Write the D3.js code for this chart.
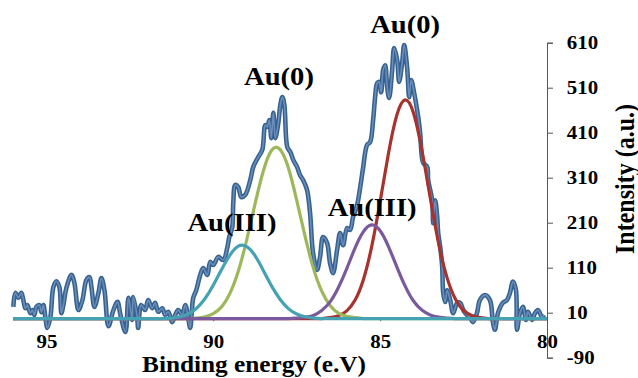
<!DOCTYPE html>
<html><head><meta charset="utf-8">
<script src="https://cdn.jsdelivr.net/npm/d3@7"></script>
<style>
html,body{margin:0;padding:0;background:#fff;}
svg{display:block;}
text{font-family:"Liberation Serif","Times New Roman",serif;font-weight:bold;fill:#000;}
</style></head><body>
<svg id="chart" width="638" height="378"></svg>
<script>
// Measured spectrum (binding energy in eV, intensity in a.u.)
const energy = [95.99,95.93,95.84,95.75,95.69,95.63,95.57,95.48,95.42,95.36,95.30,95.21,95.15,95.09,95.03,94.97,94.88,94.79,94.70,94.61,94.55,94.49,94.40,94.25,94.16,94.04,93.92,93.80,93.71,93.65,93.56,93.44,93.35,93.26,93.14,92.99,92.87,92.78,92.63,92.54,92.43,92.40,92.28,92.25,92.16,92.04,91.95,91.83,91.74,91.65,91.53,91.44,91.35,91.23,91.14,91.05,90.93,90.84,90.75,90.69,90.60,90.51,90.39,90.30,90.18,90.09,90.00,89.85,89.70,89.58,89.52,89.43,89.40,89.34,89.25,89.16,89.04,88.89,88.80,88.65,88.53,88.44,88.38,88.32,88.26,88.20,88.14,88.05,87.99,87.93,87.87,87.78,87.69,87.60,87.49,87.40,87.31,87.19,87.10,87.01,86.89,86.80,86.71,86.59,86.50,86.41,86.29,86.20,86.11,85.99,85.90,85.81,85.69,85.60,85.51,85.39,85.30,85.21,85.15,85.09,85.03,84.97,84.91,84.85,84.79,84.73,84.64,84.58,84.49,84.43,84.34,84.28,84.19,84.13,84.07,83.98,83.86,83.80,83.71,83.59,83.56,83.44,83.41,83.35,83.29,83.26,83.20,83.14,83.11,83.05,82.99,82.90,82.81,82.69,82.60,82.51,82.40,82.31,82.22,82.10,82.01,81.86,81.71,81.62,81.56,81.47,81.32,81.20,81.11,81.02,80.93,80.90,80.81,80.72,80.63,80.57,80.45,80.36,80.27,80.15,80.09];
const intensity = [23,54,43,54,38,20,27,9,16,5,23,27,11,27,0,-24,0,67,80,67,9,27,65,94,76,16,38,83,89,67,23,54,87,60,-20,16,34,5,-33,43,-6,45,0,-24,27,16,38,20,32,12,20,5,12,-11,5,16,5,27,-2,-24,43,60,94,109,94,123,116,134,127,154,178,200,254,294,289,267,272,305,334,356,372,427,423,438,398,454,398,432,472,489,472,378,367,349,334,316,305,283,232,143,105,134,178,165,120,98,149,187,160,198,194,223,249,287,332,383,389,438,489,520,523,500,549,560,512,487,549,598,572,523,565,605,554,489,527,498,445,409,343,334,305,260,209,260,223,187,156,112,54,34,60,38,9,32,32,16,5,0,-11,9,38,49,38,-11,-28,9,32,38,54,79,60,-28,9,23,-6,12,-6,9,16,0,5];

// Fitted components, sampled on a common energy grid
const fitEnergy = [80,80.25,80.5,80.75,81,81.25,81.5,81.75,82,82.25,82.5,82.75,83,83.25,83.5,83.75,84,84.25,84.5,84.75,85,85.25,85.5,85.75,86,86.25,86.5,86.75,87,87.25,87.5,87.75,88,88.25,88.5,88.75,89,89.25,89.5,89.75,90,90.25,90.5,90.75,91,91.25,91.5,91.75,92,92.25,92.5,92.75,93,93.25,93.5,93.75,94,94.25,94.5,94.75,95,95.25,95.5,95.75,96];
const fitAu0Main = [-3,-3,-3,-3,-3,-3,-3,-3,-1,4,15,41,89,165,266,372,454,483,449,364,257,158,84,38,14,3,-1,-3,-3,-3,-3,-3,-3,-3,-3,-3,-3,-3,-3,-3,-3,-3,-3,-3,-3,-3,-3,-3,-3,-3,-3,-3,-3,-3,-3,-3,-3,-3,-3,-3,-3,-3,-3,-3,-3];
const fitAu3Main = [-3,-3,-3,-3,-3,-3,-3,-3,-3,-3,-3,-3,-2,0,5,16,36,69,112,157,192,205,190,154,108,66,34,15,4,0,-2,-3,-3,-3,-3,-3,-3,-3,-3,-3,-3,-3,-3,-3,-3,-3,-3,-3,-3,-3,-3,-3,-3,-3,-3,-3,-3,-3,-3,-3,-3,-3,-3,-3,-3];
const fitAu0Second = [-3,-3,-3,-3,-3,-3,-3,-3,-3,-3,-3,-3,-3,-3,-3,-3,-3,-3,-3,-3,-3,-3,-3,-1,2,9,26,58,109,180,260,332,373,371,325,251,171,102,53,23,8,1,-2,-3,-3,-3,-3,-3,-3,-3,-3,-3,-3,-3,-3,-3,-3,-3,-3,-3,-3,-3,-3,-3,-3];
const fitAu3Second = [-3,-3,-3,-3,-3,-3,-3,-3,-3,-3,-3,-3,-3,-3,-3,-3,-3,-3,-3,-3,-3,-3,-3,-3,-3,-3,-3,-3,-2,1,7,19,40,69,104,137,157,158,138,106,71,41,20,7,1,-2,-3,-3,-3,-3,-3,-3,-3,-3,-3,-3,-3,-3,-3,-3,-3,-3,-3,-3,-3];

const xTickValues = [95, 90, 85, 80];
const yTickValues = [610, 510, 410, 310, 210, 110, 10, -90];
const peakNames = ["Au(0)", "Au(0)", "Au(III)", "Au(III)"];

const svg = d3.select("#chart");
const x = d3.scaleLinear().domain([96, 80]).range([13, 547]);
const y = d3.scaleLinear().domain([-90, 610]).range([357.7, 42.7]);
const fmt = d => String(d);

// x axis
const xAxis = svg.append("g")
  .attr("transform", `translate(0,${y(0)})`)
  .call(d3.axisBottom(x).tickValues(xTickValues).tickSize(4).tickSizeOuter(0).tickPadding(13).tickFormat(fmt));
xAxis.select(".domain").attr("stroke", "#8a8a8a");
xAxis.selectAll(".tick line").attr("stroke", "#555");
xAxis.selectAll(".tick text").attr("font-size", 19).attr("transform", "scale(1.1,1)")
  .style("font-family", '"Liberation Serif","Times New Roman",serif').style("font-weight", "bold").attr("fill", "#000");

// spectrum line
const pts = energy.map((e, i) => [e, intensity[i]]);
const line = d3.line().x(d => x(d[0])).y(d => y(d[1])).curve(d3.curveCatmullRom.alpha(0.5));
svg.append("path").datum(pts).attr("d", line).attr("fill", "none")
  .attr("stroke", "#36628f").attr("stroke-width", 4.6).attr("stroke-linejoin", "round");
svg.append("path").datum(pts).attr("d", line).attr("fill", "none")
  .attr("stroke", "#6b8dbb").attr("stroke-width", 1.6).attr("stroke-linejoin", "round");

// fit components
const fitLine = d3.line().x(d => x(d[0])).y(d => y(d[1])).curve(d3.curveNatural);
const comps = [
  {vals: fitAu0Main, color: "#a8322e"},
  {vals: fitAu0Second, color: "#9cb85a"},
  {vals: fitAu3Main, color: "#7a5a9c"},
  {vals: fitAu3Second, color: "#45a2b3"}
];
comps.forEach(c => {
  const d = fitEnergy.map((e, i) => [e, c.vals[i]]);
  svg.append("path").datum(d).attr("d", fitLine).attr("fill", "none")
    .attr("stroke", c.color).attr("stroke-width", 3.2);
});

// right y axis
const yAxis = svg.append("g")
  .attr("transform", "translate(547,0)")
  .call(d3.axisRight(y).tickValues(yTickValues).tickSize(6).tickPadding(12).tickFormat(fmt));
yAxis.select(".domain").attr("stroke", "#555");
yAxis.selectAll(".tick line").attr("stroke", "#555");
yAxis.selectAll(".tick text").attr("font-size", 19).attr("transform", "scale(1.1,1)")
  .style("font-family", '"Liberation Serif","Times New Roman",serif').style("font-weight", "bold").attr("fill", "#000");

// axis titles
svg.append("text").attr("transform", "translate(254,372) scale(1.1,1)")
  .attr("text-anchor", "middle").attr("font-size", 23).text("Binding energy (e.V)");
svg.append("text").attr("transform", "translate(634,179) scale(1.1,1) rotate(-90)")
  .attr("text-anchor", "middle").attr("font-size", 24).text("Intensity (a.u.)");

// peak labels (anchored in data units)
const labelAnchors = [[84.25, 632], [88.03, 516], [89.44, 191], [85.24, 225]];
peakNames.forEach((t, i) => {
  const [e, v] = labelAnchors[i];
  svg.append("text").attr("transform", `translate(${x(e)},${y(v)}) scale(1.1,1)`)
    .attr("text-anchor", "middle").attr("font-size", 26).text(t);
});
</script>
</body></html>
